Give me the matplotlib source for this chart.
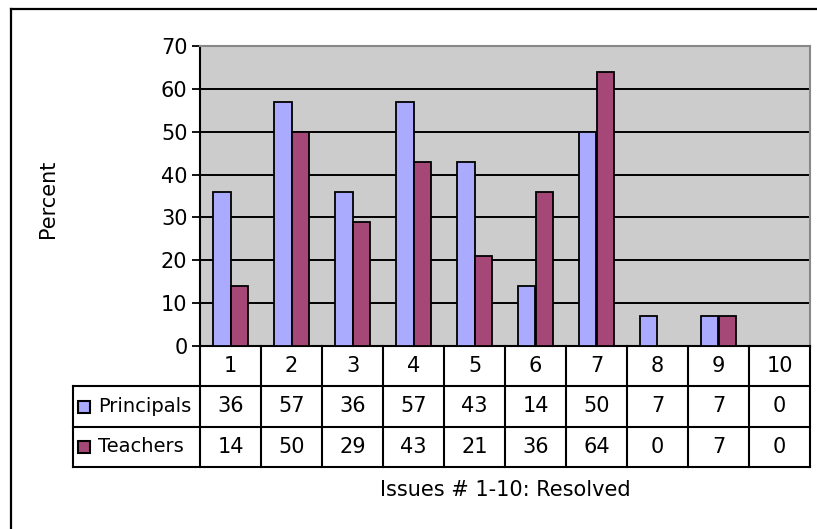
import matplotlib
matplotlib.use("Agg")
import matplotlib.pyplot as plt
from matplotlib.lines import Line2D
from matplotlib.patches import Rectangle
import numpy as np

categories = ["1", "2", "3", "4", "5", "6", "7", "8", "9", "10"]
series_names = ["Principals", "Teachers"]
principals = [36, 57, 36, 57, 43, 14, 50, 7, 7, 0]
teachers = [14, 50, 29, 43, 21, 36, 64, 0, 7, 0]
y_ticks = [0, 10, 20, 30, 40, 50, 60, 70]
series_colors = ["#AAAAFF", "#A64877"]

W, H = 817, 529
fig = plt.figure(figsize=(W / 100, H / 100), dpi=100)
FS = 15


def fx(px):
    return px / W


def fy(py):
    return 1 - py / H


# chart frame (top and left edges)
fig.add_artist(Line2D([fx(11), fx(W + 5)], [fy(9), fy(9)], color="black", lw=1.6,
                      transform=fig.transFigure))
fig.add_artist(Line2D([fx(11), fx(11)], [fy(9), fy(H + 5)], color="black", lw=1.6,
                      transform=fig.transFigure))

# plot area
L, R, T, B = 200, 810, 46, 346
ax = fig.add_axes([fx(L), fy(B), fx(R) - fx(L), (B - T) / H])
ax.set_facecolor("#CCCCCC")
x = np.arange(len(categories))
bw = 0.287
ax.bar(x - bw / 2, principals, bw, color=series_colors[0], edgecolor="black", linewidth=1.3, zorder=3)
ax.bar(x + bw / 2, teachers, bw, color=series_colors[1], edgecolor="black", linewidth=1.3, zorder=3)
ax.set_xlim(-0.5, len(categories) - 0.5)
ax.set_ylim(0, 70)
ax.set_yticks(y_ticks)
ax.set_yticklabels([str(v) for v in y_ticks], fontsize=FS)
ax.set_xticks([])
for v in y_ticks[1:-1]:
    ax.axhline(v, color="black", lw=1.4, zorder=1)
for s in ["top", "right"]:
    ax.spines[s].set_color("#888888")
    ax.spines[s].set_linewidth(1.5)
ax.spines["left"].set_linewidth(1.5)
ax.spines["bottom"].set_linewidth(1.5)
ax.tick_params(axis="y", length=6, width=1.3, direction="out", pad=3)

fig.text(fx(47.5), fy(199), "Percent", rotation=90, ha="center", va="center", fontsize=FS)

# data table below the plot
TL, TB = 72.7, 467
col_px = (R - L) / len(categories)
leg_w = (L - TL) / col_px
tab = fig.add_axes([fx(TL), fy(TB), fx(R) - fx(TL), (TB - B) / H])
tab.set_xlim(-0.5 - leg_w, len(categories) - 0.5)
tab.set_ylim(3, 0)
tab.axis("off")
lk = dict(color="black", lw=1.5, clip_on=False)
for r in (1, 2, 3):
    tab.plot([-0.5 - leg_w, len(categories) - 0.5], [r, r], **lk)
for k in range(len(categories) + 1):
    tab.plot([k - 0.5, k - 0.5], [0, 3], **lk)
tab.plot([-0.5 - leg_w, -0.5 - leg_w], [1, 3], **lk)

row_px = (TB - B) / 3
for i, c in enumerate(categories):
    tab.text(i, 0.5, c, ha="center", va="center", fontsize=FS)
for row, (vals, name, col) in enumerate(zip([principals, teachers], series_names, series_colors), start=1):
    for i, v in enumerate(vals):
        tab.text(i, row + 0.5, str(v), ha="center", va="center", fontsize=FS)
    sq_w = 12 / col_px
    sq_h = 12 / row_px
    x0 = -0.5 - leg_w + 5.5 / col_px
    tab.add_patch(Rectangle((x0, row + 0.5 - sq_h / 2), sq_w, sq_h,
                            facecolor=col, edgecolor="black", lw=1.5, clip_on=False))
    tab.text(-0.5 - leg_w + 25 / col_px, row + 0.5, name, ha="left", va="center", fontsize=14)

fig.text(fx(505), fy(490), "Issues # 1-10: Resolved", ha="center", va="center", fontsize=FS)

fig.savefig("out.png", dpi=100)
